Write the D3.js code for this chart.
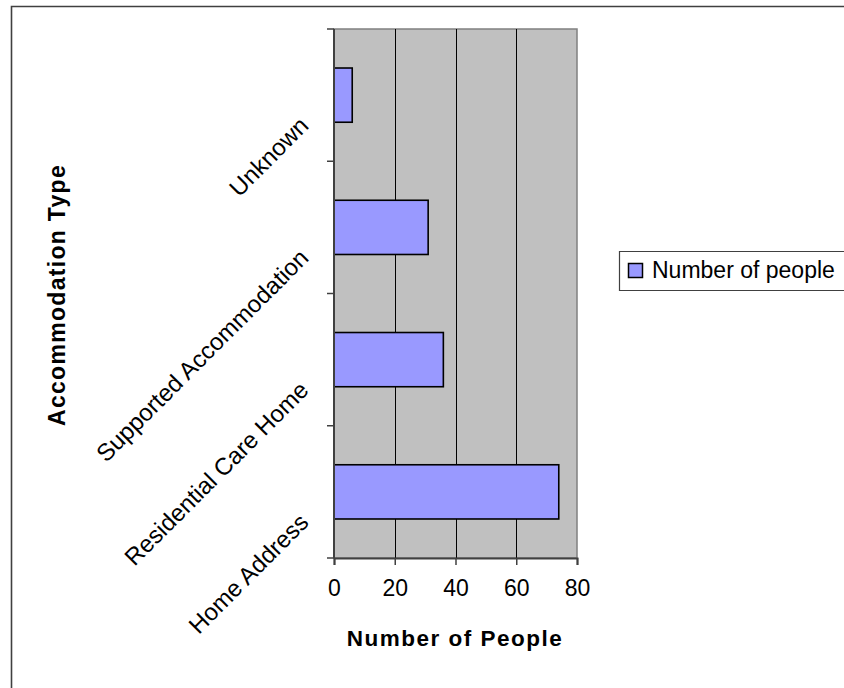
<!DOCTYPE html>
<html>
<head>
<meta charset="utf-8">
<script src="https://cdn.jsdelivr.net/npm/d3@7"></script>
<style>
    html, body { margin: 0; padding: 0; background: #fff; overflow: hidden; }
    svg { display: block; }
    text { font-family: Arial, "Liberation Sans", sans-serif; fill: #000; }
</style>
</head>
<body>
<div id="my_dataviz"></div>
<script>
// data, top to bottom
var categories = ["Unknown", "Supported Accommodation", "Residential Care Home", "Home Address"];
var values = [6, 31, 36, 74];
var xTicks = [0, 20, 40, 60, 80];
var seriesName = "Number of people";

var W = 844, H = 688;
var margin = {top: 29, left: 334},
    width = 577 - 334,
    height = 558 - 29;

var svg = d3.select("#my_dataviz")
    .append("svg")
    .attr("width", W)
    .attr("height", H);

// outer chart border: only left and top edges are inside the picture
svg.append("path")
    .attr("d", "M11.5," + (H + 10) + "V6.5H" + (W + 10))
    .attr("fill", "none")
    .attr("stroke", "#404040")
    .attr("stroke-width", 1.6);

var g = svg.append("g")
    .attr("transform", "translate(" + margin.left + "," + margin.top + ")");

var x = d3.scaleLinear()
    .domain([0, 80])
    .range([0, width]);

var y = d3.scaleBand()
    .domain(categories)
    .range([0, height]);

var yBar = y.copy()
    .paddingInner(0.59)
    .paddingOuter(0.295);

// plot area
g.append("rect")
    .attr("width", width)
    .attr("height", height)
    .attr("fill", "#c0c0c0")
    .attr("stroke", "#808080")
    .attr("stroke-width", 1.5);

// gridlines
g.selectAll(".grid")
    .data(xTicks.slice(1, -1))
    .enter()
    .append("line")
    .attr("x1", function (d) { return Math.round(x(d)) + 0.5; })
    .attr("x2", function (d) { return Math.round(x(d)) + 0.5; })
    .attr("y1", 0)
    .attr("y2", height)
    .attr("stroke", "#000")
    .attr("stroke-width", 1);

// bars
g.selectAll(".bar")
    .data(values)
    .enter()
    .append("rect")
    .attr("x", x(0))
    .attr("y", function (d, i) { return yBar(categories[i]); })
    .attr("width", function (d) { return x(d) - x(0); })
    .attr("height", yBar.bandwidth())
    .attr("fill", "#9999ff")
    .attr("stroke", "#000")
    .attr("stroke-width", 1.6);

// x axis
var xAxis = g.append("g")
    .attr("transform", "translate(0," + height + ")")
    .call(d3.axisBottom(x).tickValues(xTicks).tickSize(7).tickPadding(15));
xAxis.select(".domain").attr("stroke", "#404040").attr("stroke-width", 2);
xAxis.selectAll(".tick line").attr("stroke", "#404040").attr("stroke-width", 1.5);
xAxis.selectAll(".tick text")
    .attr("font-size", 23)
    .attr("font-family", "Arial, 'Liberation Sans', sans-serif");

// y axis: ticks sit on the band edges
var edges = categories.map(function (c) { return y(c); }).concat([height]);
g.append("line")
    .attr("x1", 0).attr("x2", 0)
    .attr("y1", 0).attr("y2", height)
    .attr("stroke", "#404040")
    .attr("stroke-width", 2);
g.selectAll(".ytick")
    .data(edges)
    .enter()
    .append("line")
    .attr("x1", -7).attr("x2", 0)
    .attr("y1", function (d) { return d; })
    .attr("y2", function (d) { return d; })
    .attr("stroke", "#404040")
    .attr("stroke-width", 1.5);

g.selectAll(".ylabel")
    .data(categories)
    .enter()
    .append("text")
    .attr("text-anchor", "end")
    .attr("font-size", 24)
    .attr("transform", function (d) {
        return "translate(-24," + (y(d) + y.bandwidth() / 2 + 32) + ") rotate(-45)";
    })
    .text(function (d) { return d; });

// axis titles
svg.append("text")
    .attr("x", 455)
    .attr("y", 646)
    .attr("text-anchor", "middle")
    .attr("font-size", 22.5)
    .attr("font-weight", "bold")
    .attr("letter-spacing", 1.5)
    .text("Number of People");

svg.append("text")
    .attr("transform", "translate(65,295) rotate(-90)")
    .attr("text-anchor", "middle")
    .attr("font-size", 23)
    .attr("font-weight", "bold")
    .attr("letter-spacing", 1.3)
    .text("Accommodation Type");

// legend (its right edge runs off the picture)
var legend = svg.append("g");
legend.append("path")
    .attr("d", "M" + (W + 10) + ",251.5H619.5V290.5H" + (W + 10))
    .attr("fill", "#fff")
    .attr("stroke", "#404040")
    .attr("stroke-width", 1.2);
legend.append("rect")
    .attr("x", 628.5)
    .attr("y", 263.5)
    .attr("width", 14)
    .attr("height", 14)
    .attr("fill", "#9999ff")
    .attr("stroke", "#000")
    .attr("stroke-width", 1.5);
legend.append("text")
    .attr("x", 652)
    .attr("y", 278)
    .attr("font-size", 23)
    .text(seriesName);
</script>
</body>
</html>
